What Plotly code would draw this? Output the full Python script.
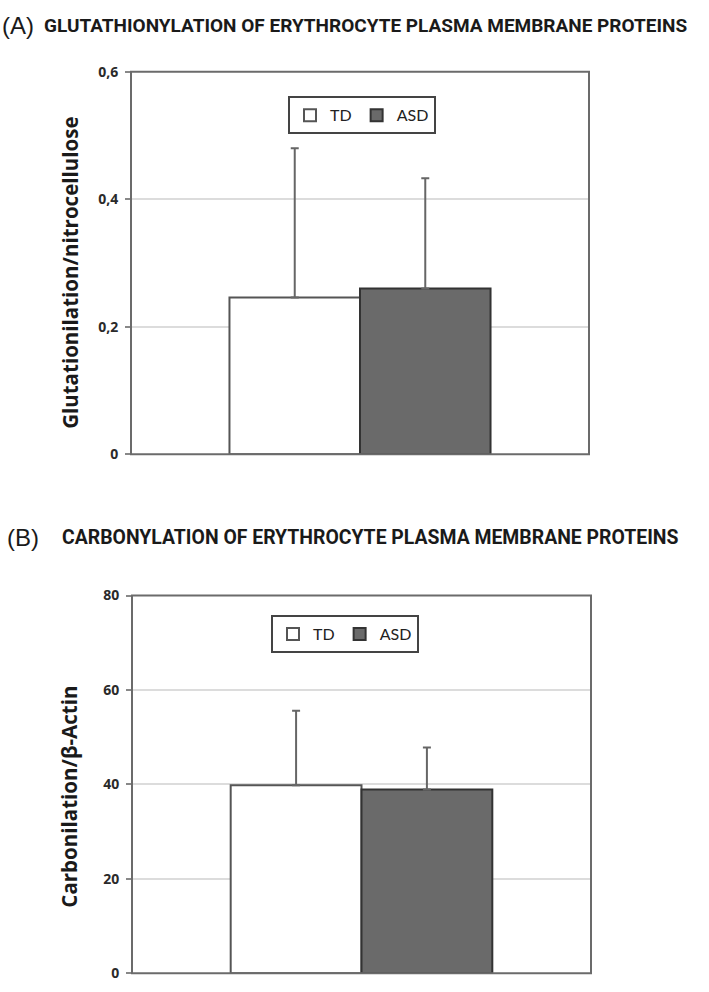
import plotly.graph_objects as go

# ---- data ----
groups = ["TD", "ASD"]
category = [""]
glut_mean = [0.246, 0.260]
glut_err = [0.234, 0.173]
carb_mean = [39.8, 38.9]
carb_err = [15.8, 8.9]

glut_ticks = [0, 0.2, 0.4, 0.6]
glut_ticktext = ["0", "0,2", "0,4", "0,6"]
carb_ticks = [0, 20, 40, 60, 80]
carb_ticktext = ["0", "20", "40", "60", "80"]

title_a = "GLUTATHIONYLATION OF ERYTHROCYTE PLASMA MEMBRANE PROTEINS"
title_b = "CARBONYLATION OF ERYTHROCYTE PLASMA MEMBRANE PROTEINS"
ylab_a = "Glutationilation/nitrocellulose"
ylab_b = "Carbonilation/β-Actin"

fills = ["#ffffff", "#6a6a6a"]
lines = ["#555555", "#333333"]

W, H = 709, 992
def px(x):
    return x / W
def py(y):
    return 1 - y / H

fig = go.Figure()

for i, g in enumerate(groups):
    fig.add_trace(go.Bar(
        x=category, y=[glut_mean[i]], name=g,
        marker=dict(color=fills[i], line=dict(color=lines[i], width=2)),
        error_y=dict(type="data", array=[glut_err[i]], arrayminus=[0], symmetric=False,
                     color="#666666", thickness=2, width=4),
        xaxis="x", yaxis="y", legend="legend",
    ))
for i, g in enumerate(groups):
    fig.add_trace(go.Bar(
        x=category, y=[carb_mean[i]], name=g,
        marker=dict(color=fills[i], line=dict(color=lines[i], width=2)),
        error_y=dict(type="data", array=[carb_err[i]], arrayminus=[0], symmetric=False,
                     color="#666666", thickness=2, width=4),
        xaxis="x2", yaxis="y2", legend="legend2",
    ))

tickfont = dict(family="Open Sans, Lato, sans-serif", size=14, color="#2a2a2a")
common_y = dict(showgrid=True, gridcolor="#dcdcdc", gridwidth=1.5, zeroline=False,
                ticks="outside", ticklen=5, tickcolor="#888888", tickwidth=1.5,
                tickfont=tickfont, showline=False, ticklabelstandoff=4)
common_x = dict(showticklabels=False, showgrid=False, zeroline=False, showline=False,
                range=[-0.5, 0.5], fixedrange=True)

legfont = dict(family="Lato, Open Sans, sans-serif", size=16, color="#222222")

fig.update_layout(
    width=W, height=H,
    margin=dict(l=0, r=0, t=0, b=0),
    paper_bgcolor="white", plot_bgcolor="white",
    barmode="group", bargap=0.43, bargroupgap=0,
    xaxis=dict(domain=[px(131), px(589)], anchor="y", **common_x),
    yaxis=dict(domain=[py(453), py(63)], anchor="x", range=[0, 0.6],
               tickvals=glut_ticks, ticktext=["<b>" + t + "</b>" for t in glut_ticktext],
               **common_y),
    xaxis2=dict(domain=[px(132), px(591)], anchor="y2", **common_x),
    yaxis2=dict(domain=[py(982), py(597)], anchor="x2", range=[0, 80],
                tickvals=carb_ticks, ticktext=["<b>" + t + "</b>" for t in carb_ticktext],
                **common_y),
    legend=dict(orientation="h", x=px(362), y=py(88), xanchor="center", yanchor="top",
                bordercolor="#444444", borderwidth=2, bgcolor="white", font=legfont,
                itemwidth=30, traceorder="normal"),
    legend2=dict(orientation="h", x=px(345), y=py(617), xanchor="center", yanchor="top",
                 bordercolor="#444444", borderwidth=2, bgcolor="white", font=legfont,
                 itemwidth=30, traceorder="normal"),
    showlegend=True,
)

# plot frames
for xr, yr in [("x domain", "y domain"), ("x2 domain", "y2 domain")]:
    fig.add_shape(type="rect", xref=xr, yref=yr, x0=0, y0=0, x1=1, y1=1,
                  line=dict(color="#6b6b6b", width=2), layer="above")

annfont_title_a = dict(family="Roboto, sans-serif", size=19, color="#1a1a1a")
annfont_title_b = dict(family="Roboto, sans-serif", size=19.4, color="#1a1a1a")
annfont_lab = dict(family="Liberation Sans, Arial, sans-serif", size=24, color="#1a1a1a")
ylabfont = dict(family="Open Sans, Lato, sans-serif", size=20.5, color="#1a1a1a")

fig.add_annotation(text="(A)", x=0, y=py(16), xref="paper", yref="paper",
                   xanchor="left", yanchor="middle", showarrow=False, font=annfont_lab)
fig.add_annotation(text="<b>" + title_a + "</b>", x=px(42), y=py(16), xref="paper", yref="paper",
                   xanchor="left", yanchor="middle", showarrow=False, font=annfont_title_a)
fig.add_annotation(text="(B)", x=px(5), y=py(538), xref="paper", yref="paper",
                   xanchor="left", yanchor="middle", showarrow=False, font=annfont_lab)
fig.add_annotation(text="<b>" + title_b + "</b>", x=px(60), y=py(538), xref="paper", yref="paper",
                   xanchor="left", yanchor="middle", showarrow=False, font=annfont_title_b)

fig.add_annotation(text="<b>" + ylab_a + "</b>", x=px(70), y=py(268), xref="paper", yref="paper",
                   xanchor="center", yanchor="middle", textangle=-90, showarrow=False, font=ylabfont)
fig.add_annotation(text="<b>" + ylab_b + "</b>", x=px(69), y=py(802), xref="paper", yref="paper",
                   xanchor="center", yanchor="middle", textangle=-90, showarrow=False, font=ylabfont)

fig.write_html("out.html", config={"displayModeBar": False},
               post_script="document.body.style.margin='0';")
